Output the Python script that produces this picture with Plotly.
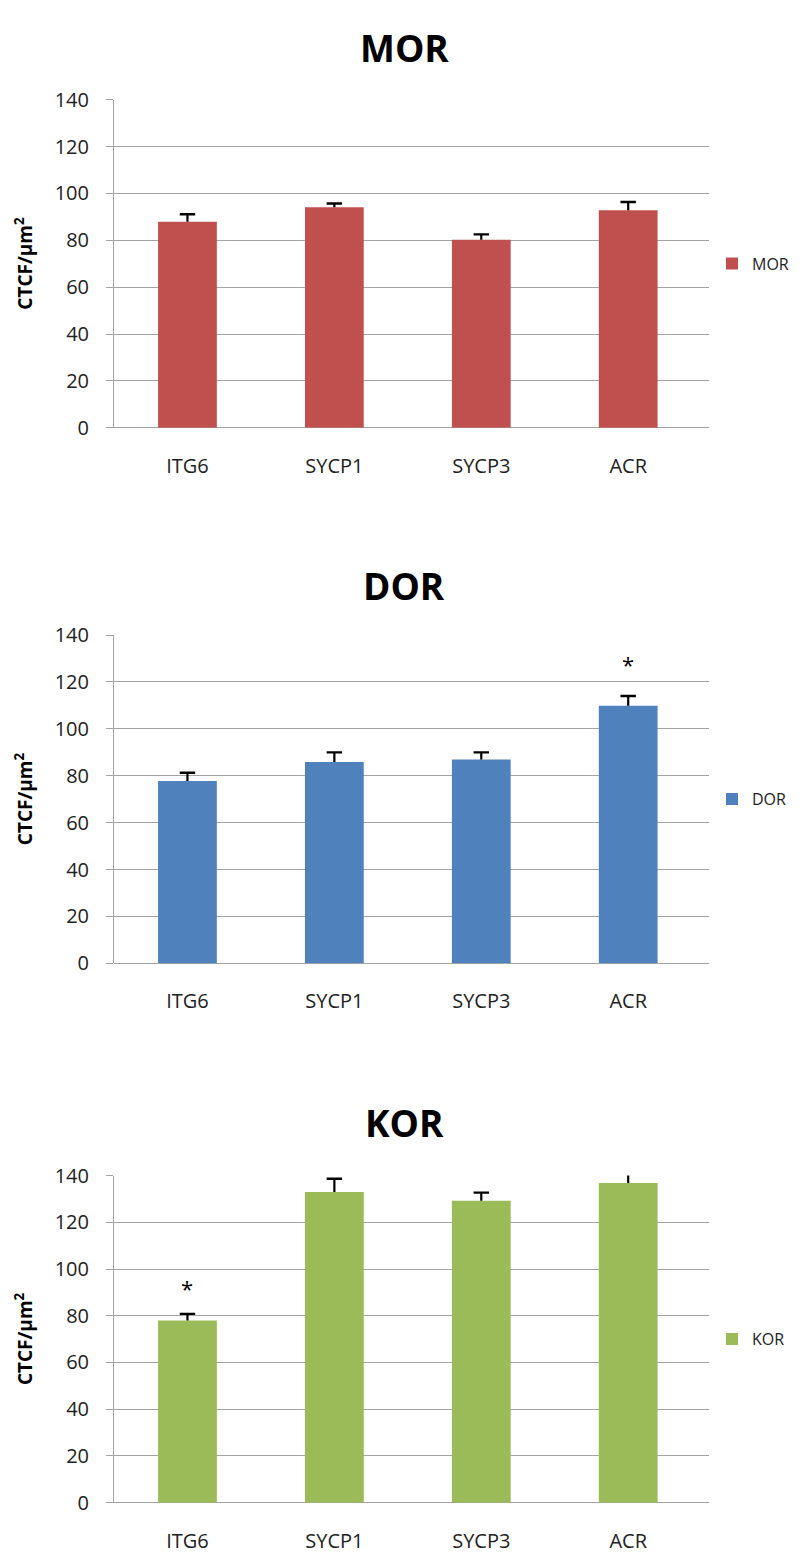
import plotly.graph_objects as go

categories = ["ITG6", "SYCP1", "SYCP3", "ACR"]

mor_values = [87.9, 94.1, 80.2, 92.8]
mor_errors = [3.2, 1.6, 2.3, 3.5]

dor_values = [77.8, 85.9, 86.9, 109.9]
dor_errors = [3.5, 4.1, 3.1, 4.1]

kor_values = [78.0, 133.0, 129.2, 136.8]
kor_errors = [2.8, 5.6, 3.5, 4.0]

series_names = ["MOR", "DOR", "KOR"]
series_colors = ["#C0504D", "#4F81BD", "#9BBB59"]

# significance markers: (series index, category, y position)
star_series = [1, 2]
star_categories = ["ACR", "ITG6"]
star_y = [127.5, 92.0]

y_ticks = [0, 20, 40, 60, 80, 100, 120, 140]
y_title = "<b>CTCF/μm<sup>2</sup></b>"

# page body has an 8px margin: figure is drawn 8px in from the window edge
OFF = 8
W, H = 810 - 2 * OFF, 1564 - 2 * OFF
FONT = "Open Sans"

def px_x(sx):
    return (sx - OFF) / W

def px_y(sy):
    return 1 - (sy - OFF) / H

plot_left, plot_right = 114, 709
plot_tops = [87, 632, 1182]
plot_bottoms = [421, 966, 1515]
title_y = [34, 581, 1128]

all_vals = [mor_values, dor_values, kor_values]
all_errs = [mor_errors, dor_errors, kor_errors]

fig = go.Figure()

for i in range(3):
    ax = "" if i == 0 else str(i + 1)
    lg = "legend" if i == 0 else "legend" + str(i + 1)
    fig.add_trace(go.Bar(
        x=categories, y=all_vals[i], name=series_names[i],
        marker=dict(color=series_colors[i], line=dict(width=0)),
        xaxis="x" + ax, yaxis="y" + ax, legend=lg,
        width=0.4,
    ))
    tops = [v + e for v, e in zip(all_vals[i], all_errs[i])]
    fig.add_trace(go.Scatter(
        x=categories, y=tops, mode="markers", showlegend=False,
        marker=dict(symbol="line-ew-open", size=11, color="#000000",
                    line=dict(color="#000000", width=2.4)),
        error_y=dict(type="data", symmetric=False,
                     array=[0] * len(categories), arrayminus=all_errs[i],
                     color="#000000", thickness=2.2, width=0),
        xaxis="x" + ax, yaxis="y" + ax, hoverinfo="skip",
        cliponaxis=True,
    ))

layout = dict(
    width=W, height=H,
    margin=dict(l=0, r=0, t=0, b=0),
    paper_bgcolor="white", plot_bgcolor="white",
    font=dict(family=FONT, size=16, color="#222222"),
    showlegend=True,
)

GRID = "#A3A3A3"
for i in range(3):
    ax = "" if i == 0 else str(i + 1)
    layout["xaxis" + ax] = dict(
        domain=[px_x(plot_left), px_x(plot_right)],
        anchor="y" + ax,
        range=[-0.5, 3.55],
        showgrid=False, showline=False,
        ticks="", ticklabelstandoff=24,
        tickfont=dict(family=FONT, size=20, color="#222222"),
        fixedrange=True,
    )
    layout["yaxis" + ax] = dict(
        domain=[px_y(plot_bottoms[i]), px_y(plot_tops[i])],
        anchor="x" + ax,
        range=[0, 140],
        tickvals=y_ticks,
        showgrid=True, gridcolor=GRID, gridwidth=1,
        zeroline=True, zerolinecolor=GRID, zerolinewidth=1,
        showline=True, linecolor=GRID, linewidth=1,
        ticks="outside", ticklen=7, tickcolor=GRID,
        ticklabelstandoff=13,
        tickfont=dict(family=FONT, size=20, color="#222222"),
        fixedrange=True,
    )
    lg = "legend" if i == 0 else "legend" + str(i + 1)
    mid = (plot_tops[i] + plot_bottoms[i]) / 2
    layout[lg] = dict(
        x=px_x(712), y=px_y(mid), xanchor="left", yanchor="middle",
        font=dict(family=FONT, size=16, color="#222222"),
        bgcolor="rgba(0,0,0,0)", itemwidth=30,
    )

fig.update_layout(**layout)

annotations = []
for i in range(3):
    annotations.append(dict(
        text="<b>" + series_names[i] + "</b>",
        x=px_x(404), y=px_y(title_y[i]), xref="paper", yref="paper",
        xanchor="center", yanchor="middle", showarrow=False,
        font=dict(family=FONT, size=37, color="#000000"),
    ))
    mid = (plot_tops[i] + plot_bottoms[i]) / 2
    annotations.append(dict(
        text=y_title, textangle=-90,
        x=px_x(24), y=px_y(mid), xref="paper", yref="paper",
        xanchor="center", yanchor="middle", showarrow=False,
        font=dict(family=FONT, size=19, color="#000000"),
    ))
for s, c, yv in zip(star_series, star_categories, star_y):
    ax = "" if s == 0 else str(s + 1)
    annotations.append(dict(
        text="*", x=c, y=yv, xref="x" + ax, yref="y" + ax,
        showarrow=False, xanchor="center", yanchor="middle",
        font=dict(family=FONT, size=22, color="#000000"),
    ))
fig.update_layout(annotations=annotations)

fig.write_html("out.html")
